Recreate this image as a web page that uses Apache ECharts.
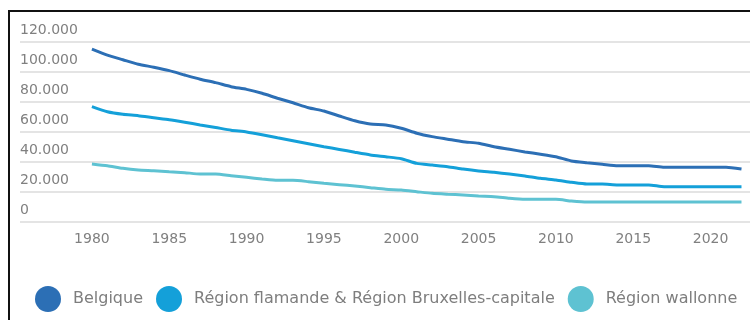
<!DOCTYPE html>
<html>
<head>
<meta charset="utf-8">
<script src="https://cdn.jsdelivr.net/npm/echarts@6/dist/echarts.min.js"></script>
<style>
  html, body { margin: 0; padding: 0; background: #fff; }
  #chart { width: 750px; height: 320px; }
  #frame { position: absolute; left: 8px; top: 10px; width: 742px; height: 310px;
           border-left: 2px solid #111; border-top: 2px solid #111; pointer-events: none; }
</style>
</head>
<body>
<div id="chart"></div>
<div id="frame"></div>
<script>
// jaren + reeksen
const years = [];
for (let y = 1980; y <= 2022; y++) years.push(y);
const belgique = [115000, 111000, 108000, 105000, 103000, 100700, 97800, 95000, 92700, 90000,
  88200, 85600, 82300, 79300, 76000, 73800, 70500, 67300, 65100, 64500,
  62300, 59000, 56700, 55000, 53300, 52300, 50000, 48300, 46500, 45000,
  43300, 40500, 39300, 38300, 37300, 37300, 37300, 36300, 36300, 36300,
  36300, 36300, 35100];
const flamande = [76700, 73300, 71600, 70700, 69300, 68000, 66300, 64500, 62800, 61000,
  59800, 58000, 56000, 54000, 52000, 50000, 48200, 46300, 44500, 43300,
  42000, 38900, 37800, 36700, 35100, 33800, 32900, 31800, 30500, 28900,
  27800, 26300, 25100, 25100, 24500, 24500, 24500, 23300, 23300, 23300,
  23300, 23300, 23300];
const wallonne = [38500, 37300, 35600, 34500, 34000, 33300, 32700, 31800, 31800, 30700,
  29600, 28500, 27600, 27600, 26700, 25600, 24700, 23800, 22700, 21600,
  21100, 20000, 18900, 18300, 17800, 17100, 16700, 15600, 14900, 14900,
  14900, 13800, 13100, 13100, 13100, 13100, 13100, 13100, 13100, 13100,
  13100, 13100, 13100];
const xTicks = [1980, 1985, 1990, 1995, 2000, 2005, 2010, 2015, 2020];
const seriesNames = ['Belgique', 'Région flamande & Région Bruxelles-capitale', 'Région wallonne'];
const colors = ['#2c6fb5', '#14a0d9', '#5ec2d2'];

const chart = echarts.init(document.getElementById('chart'));
const font = 'DejaVu Sans';
const toPairs = (arr) => arr.map((v, i) => [years[i], v]);

const option = {
  animation: false,
  color: colors,
  grid: { left: 20, right: 0, top: 41.7, bottom: 98.3, containLabel: false },
  legend: {
    left: 35, bottom: 8, padding: 0,
    icon: 'circle', itemWidth: 40, itemHeight: 26, itemGap: 13,
    textStyle: { color: '#7e7e7e', fontSize: 16, fontFamily: font },
    data: seriesNames
  },
  xAxis: {
    type: 'value',
    min: 1975.35, max: 2022.55,
    axisLine: { show: false },
    axisTick: { show: false },
    splitLine: { show: false },
    axisLabel: {
      customValues: xTicks,
      color: '#808080', fontSize: 14, fontFamily: font, margin: 11,
      formatter: (v) => String(v)
    }
  },
  yAxis: {
    type: 'value',
    min: 0, max: 120000, interval: 20000,
    axisLine: { show: false },
    axisTick: { show: false },
    splitLine: { lineStyle: { color: '#e4e4e4', width: 2 } },
    axisLabel: {
      inside: true, align: 'left', verticalAlign: 'bottom', margin: 0,
      padding: [0, 0, 4, 0],
      color: '#808080', fontSize: 14, fontFamily: font,
      formatter: (v) => v === 0 ? '0' : (v / 1000) + '.000'
    }
  },
  series: [
    { name: seriesNames[0], type: 'line', data: toPairs(belgique), showSymbol: false, smooth: 0.2, lineStyle: { width: 3 } },
    { name: seriesNames[1], type: 'line', data: toPairs(flamande), showSymbol: false, smooth: 0.2, lineStyle: { width: 3 } },
    { name: seriesNames[2], type: 'line', data: toPairs(wallonne), showSymbol: false, smooth: 0.2, lineStyle: { width: 3 } }
  ]
};
chart.setOption(option);
</script>
</body>
</html>
